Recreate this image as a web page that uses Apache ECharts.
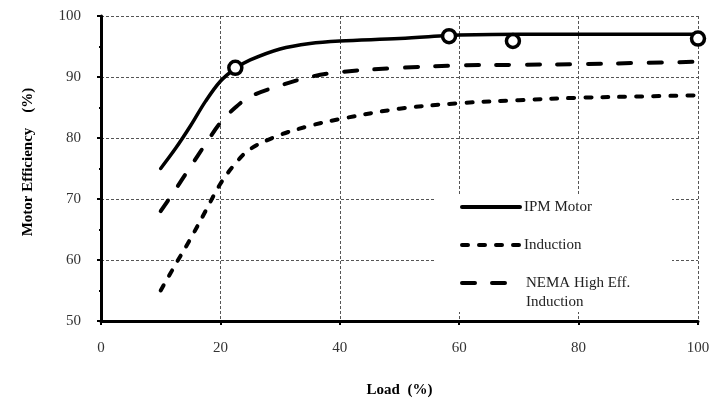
<!DOCTYPE html>
<html>
<head>
<meta charset="utf-8">
<script src="https://cdn.jsdelivr.net/npm/echarts@6/dist/echarts.min.js"></script>
<style>html,body{margin:0;padding:0;background:#fff}#c{width:718px;height:403px}</style>
</head>
<body>
<div id="c"></div>
<script>
var loadIPM = [10, 12.5, 15, 17.5, 20, 22.5, 25, 30, 35, 40, 50, 58, 60, 70, 80, 90, 100];
var ipmEff = [75, 78.3, 82, 86, 89.3, 91.4, 92.8, 94.6, 95.5, 95.9, 96.3, 96.8, 96.9, 97, 97, 97, 97];
var loadCurve = [10, 12.5, 15, 17.5, 20, 22.5, 25, 30, 35, 40, 50, 60, 70, 80, 90, 100];
var inductionEff = [55, 59.3, 63.5, 68, 72.5, 75.8, 78.2, 80.5, 82, 83.1, 84.8, 85.7, 86.2, 86.6, 86.8, 87];
var nemaEff = [68, 71.6, 75.3, 79, 82.5, 85, 86.8, 88.6, 90, 90.8, 91.5, 91.9, 92, 92.1, 92.3, 92.5];
var markLoad = [22.5, 58.3, 69, 100];
var markEff = [91.5, 96.7, 95.9, 96.3];
var xTicks = [0, 20, 40, 60, 80, 100];
var yTicks = [50, 60, 70, 80, 90, 100];

function pairs(xs, ys) { return xs.map(function (x, i) { return [x, ys[i]]; }); }

var FONT = 'Liberation Serif';
var chart = echarts.init(document.getElementById('c'));
chart.setOption({
  animation: false,
  backgroundColor: '#fff',
  grid: { left: 101, right: 20, top: 16, bottom: 73 },
  xAxis: {
    type: 'value', min: xTicks[0], max: xTicks[xTicks.length - 1], interval: 20,
    name: 'Load  (%)', nameLocation: 'middle', nameGap: 62,
    nameTextStyle: { fontFamily: FONT, fontWeight: 'bold', fontSize: 15, color: '#000' },
    axisLine: { show: true, onZero: false, lineStyle: { color: '#000', width: 3 } },
    axisTick: { show: true, length: 4, lineStyle: { color: '#000', width: 2 } },
    minorTick: { show: true, splitNumber: 2, length: 2, lineStyle: { color: '#000', width: 2 } },
    axisLabel: { fontFamily: FONT, fontSize: 15, color: '#333', margin: 20 },
    splitLine: { show: true, lineStyle: { color: '#555', width: 1, type: [3, 2] } }
  },
  yAxis: {
    type: 'value', min: yTicks[0], max: yTicks[yTicks.length - 1], interval: 10,
    axisLine: { show: true, onZero: false, lineStyle: { color: '#000', width: 3 } },
    axisTick: { show: true, length: 4, lineStyle: { color: '#000', width: 2 } },
    minorTick: { show: true, splitNumber: 2, length: 2, lineStyle: { color: '#000', width: 2 } },
    axisLabel: { fontFamily: FONT, fontSize: 15, color: '#333', margin: 20 },
    splitLine: { show: true, lineStyle: { color: '#555', width: 1, type: [3, 2] } }
  },
  graphic: [
    { type: 'text', x: 28, y: 162, rotation: Math.PI / 2, z: 10,
      style: { text: 'Motor Efficiency    (%)', font: 'bold 15px "Liberation Serif"', fill: '#000', align: 'center', verticalAlign: 'middle' } },
    { type: 'rect', z: 5, shape: { x: 435, y: 195, width: 237, height: 117 }, style: { fill: '#fff' } },
    { type: 'line', z: 6, shape: { x1: 462, y1: 207, x2: 520, y2: 207 }, style: { stroke: '#000', lineWidth: 4, lineCap: 'round' } },
    { type: 'text', z: 6, x: 524, y: 207, style: { text: 'IPM Motor', font: '15px "Liberation Serif"', fill: '#222', verticalAlign: 'middle' } },
    { type: 'line', z: 6, shape: { x1: 462, y1: 245, x2: 521, y2: 245 }, style: { stroke: '#000', lineWidth: 4, lineCap: 'round', lineDash: [6, 11] } },
    { type: 'text', z: 6, x: 524, y: 245, style: { text: 'Induction', font: '15px "Liberation Serif"', fill: '#222', verticalAlign: 'middle' } },
    { type: 'line', z: 6, shape: { x1: 462, y1: 283, x2: 505, y2: 283 }, style: { stroke: '#000', lineWidth: 4, lineCap: 'round', lineDash: [13, 17] } },
    { type: 'text', z: 6, x: 526, y: 283, style: { text: 'NEMA High Eff.', font: '15px "Liberation Serif"', fill: '#222', verticalAlign: 'middle' } },
    { type: 'text', z: 6, x: 526, y: 302, style: { text: 'Induction', font: '15px "Liberation Serif"', fill: '#222', verticalAlign: 'middle' } }
  ],
  series: [
    { name: 'IPM Motor', type: 'line', smooth: 0.35, symbol: 'none', data: pairs(loadIPM, ipmEff),
      lineStyle: { color: '#000', width: 3.5, cap: 'round' } },
    { name: 'Induction', type: 'line', smooth: 0.35, symbol: 'none', data: pairs(loadCurve, inductionEff),
      lineStyle: { color: '#000', width: 4, cap: 'round', type: [6, 11] } },
    { name: 'NEMA High Eff. Induction', type: 'line', smooth: 0.35, symbol: 'none', data: pairs(loadCurve, nemaEff),
      lineStyle: { color: '#000', width: 4, cap: 'round', type: [13, 17.5] } },
    { name: 'IPM measured', type: 'scatter', data: pairs(markLoad, markEff), symbol: 'circle', symbolSize: 13, z: 4,
      itemStyle: { color: '#fff', borderColor: '#000', borderWidth: 3.5, opacity: 1 } }
  ]
});
</script>
</body>
</html>
